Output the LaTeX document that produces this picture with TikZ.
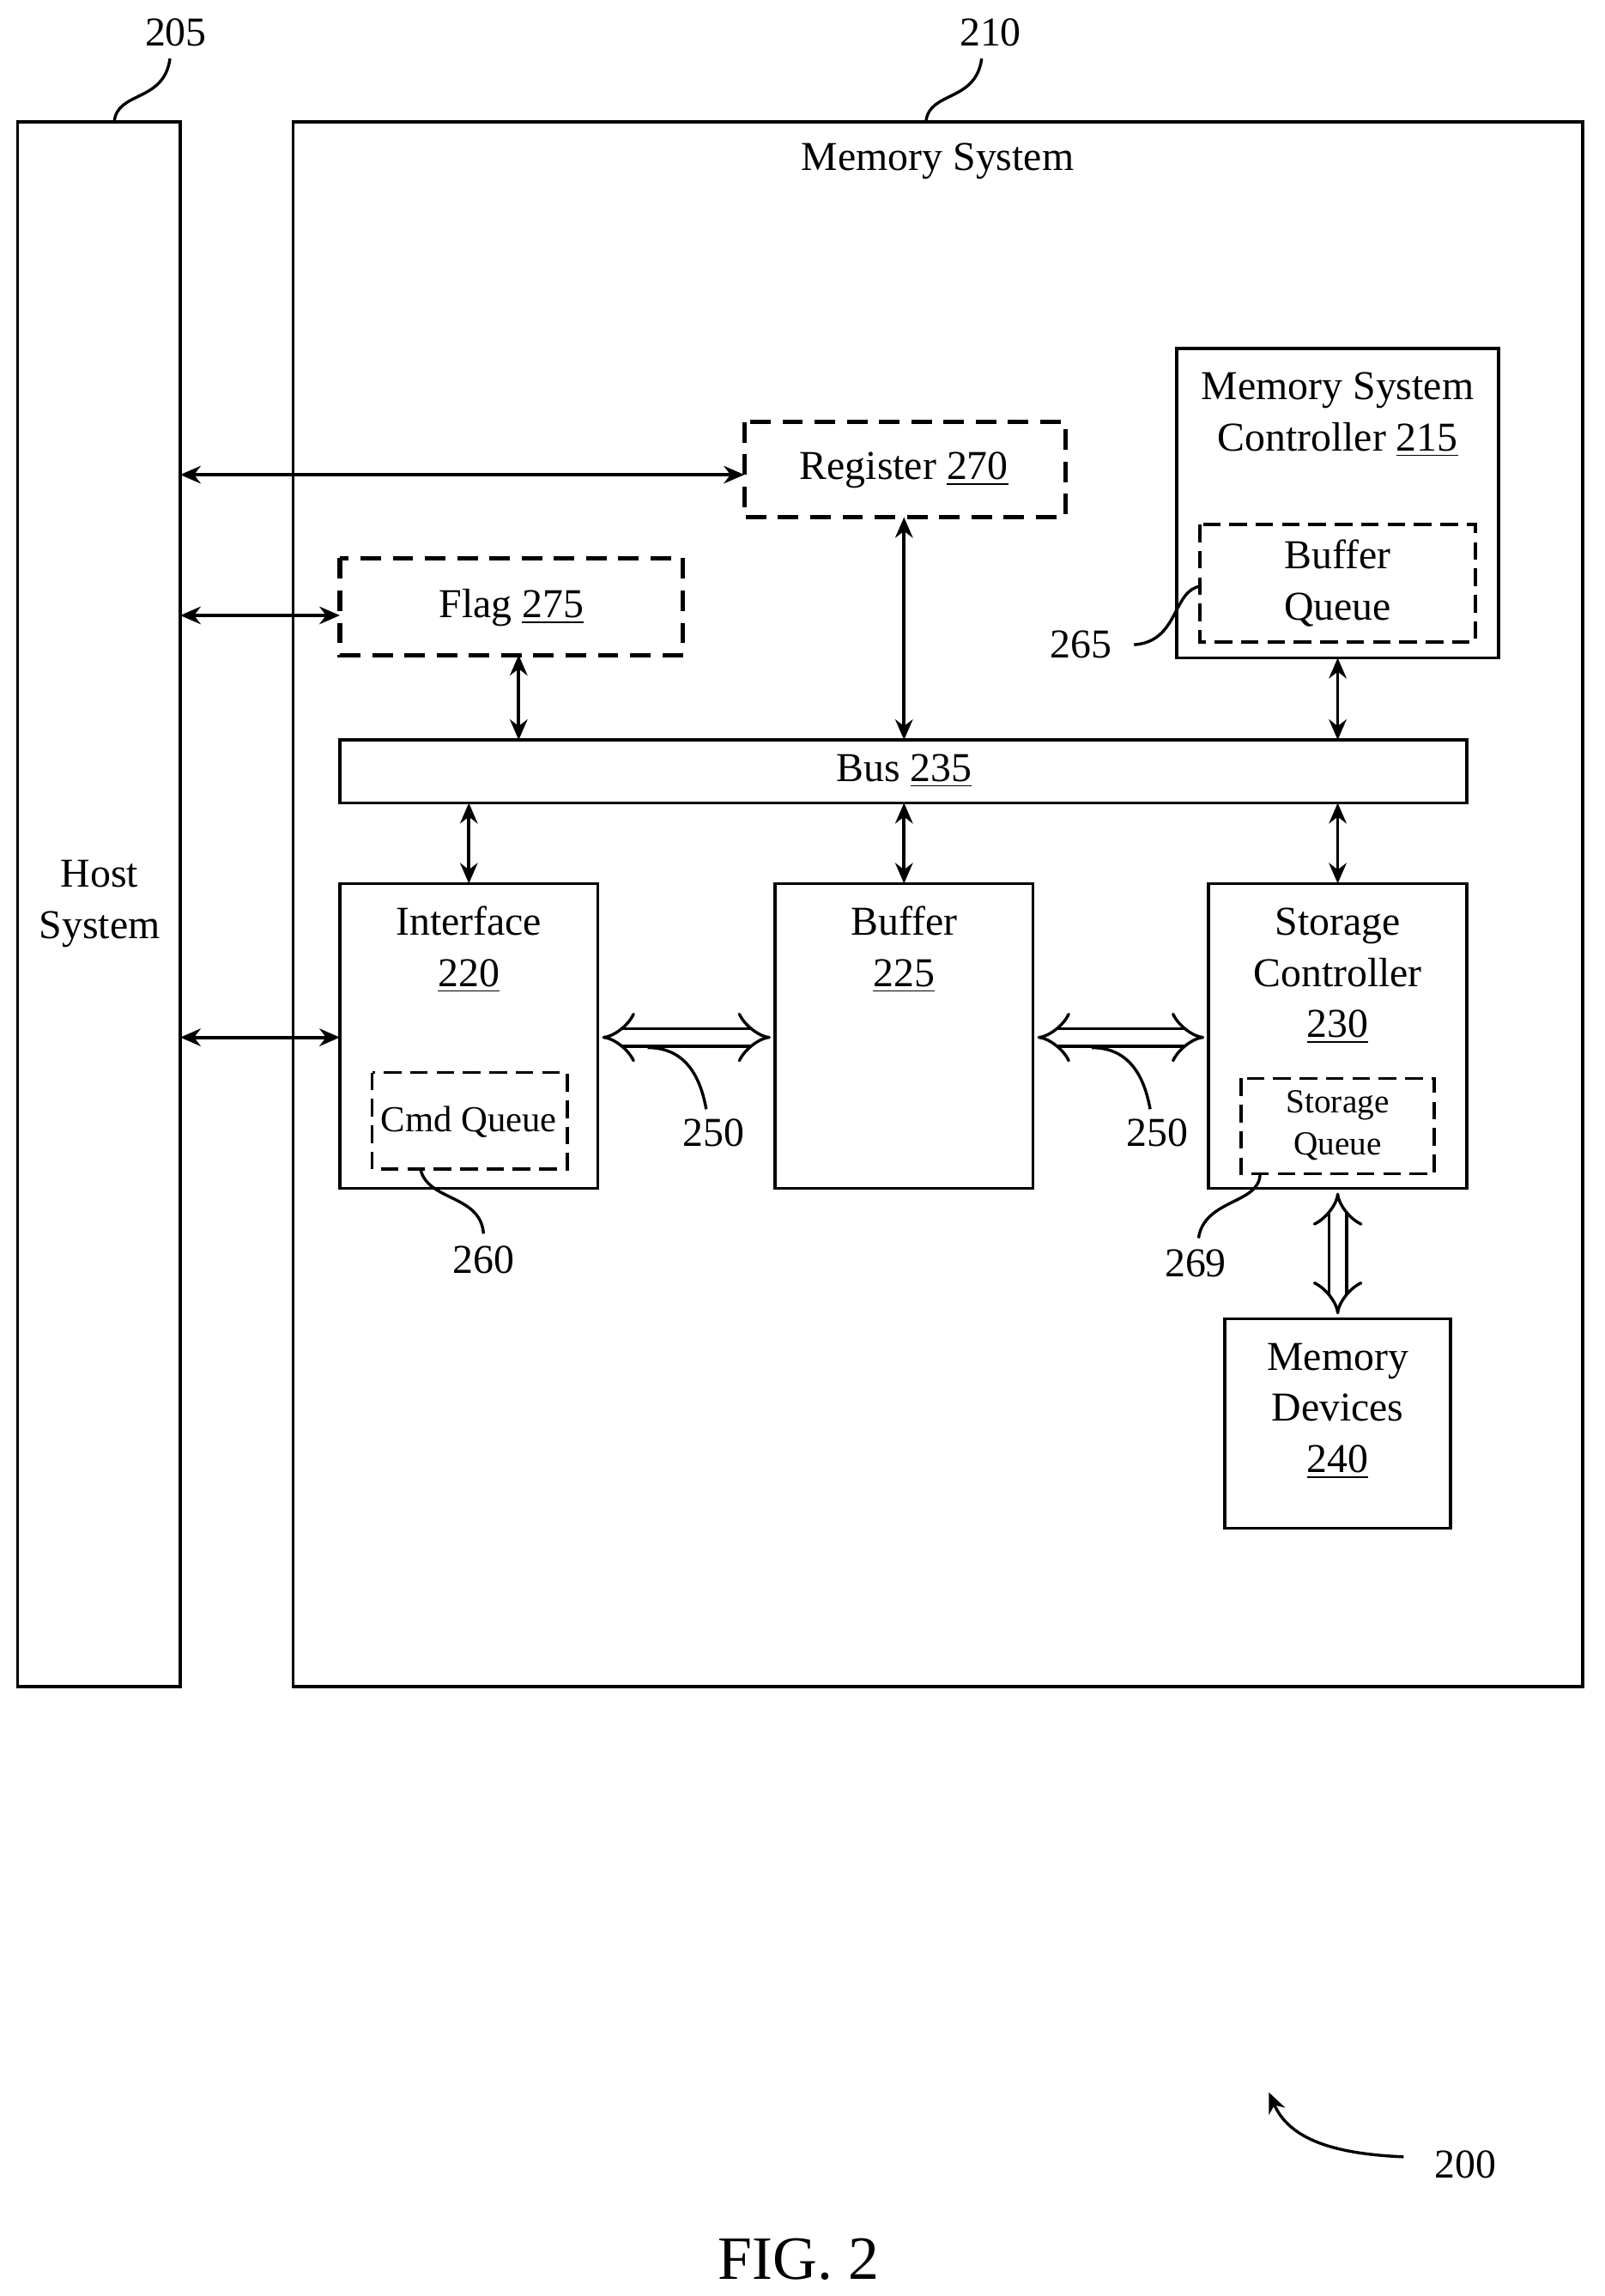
\documentclass[tikz,border=0pt]{standalone}
\usepackage{fontspec}
\setmainfont{Liberation Serif}
\usetikzlibrary{arrows.meta}
\begin{document}
\begin{tikzpicture}[x=0.5pt,y=-0.5pt,line width=1.1pt,
 box/.style={draw,line width=1.1pt},
 dbox/.style={draw,dashed,dash pattern=on 7pt off 4pt,line width=1.5pt},
 dboxs/.style={draw,dashed,dash pattern=on 6pt off 3pt,line width=1.1pt},
 txt/.style={font=\fontsize{14}{17.5}\selectfont,align=center},
 arr/.style={{Stealth[length=7pt,width=6pt]}-{Stealth[length=7pt,width=6pt]},line width=1.1pt},
 darr/.style={double,double distance=5pt,line width=1pt,{Implies}-{Implies}},
 lead/.style={line width=1pt}]
\useasboundingbox (0,0) rectangle (1095,1567);
% boxes
\draw[box] (12,83) rectangle (123,1151);
\node[txt] (host) at (68,617) {Host\\System};
\draw[box] (200,83) rectangle (1080,1151);
\node[txt] (mst) at (640,110) {Memory System};
\node[txt] (l205) at (120,22) {205};
\node[txt] (l210) at (676,22) {210};
\draw[lead] (78,83) .. controls (80,62) and (112,70) .. (116,40);
\draw[lead] (632,83) .. controls (634,62) and (666,70) .. (670,40);
% register / flag
\draw[dbox] (508,288) rectangle (727,353);
\node[txt] (reg) at (617,321) {Register \underline{270}};
\draw[dbox] (232,381) rectangle (466,447);
\node[txt] (flag) at (349,415) {Flag \underline{275}};
% MSC
\draw[box] (803,238) rectangle (1023,449);
\node[txt] (msc) at (913,283) {Memory System\\Controller \underline{215}};
\draw[dboxs] (819,358) rectangle (1007,438);
\node[txt] (bq) at (913,398) {Buffer\\Queue};
\node[txt] (l265) at (738,440) {265};
\draw[lead] (820,400) .. controls (800,402) and (805,438) .. (774,440);
% bus
\draw[box] (232,505) rectangle (1001,548);
\node[txt] (bus) at (617,526) {Bus \underline{235}};
% interface
\draw[box] (232,603) rectangle (408,811);
\node[txt] (int) at (320,648) {Interface\\\underline{220}};
\draw[dboxs] (254,732) rectangle (387,798);
\node[txt,font=\fontsize{12.5}{15}\selectfont] (cq) at (320,766) {Cmd Queue};
\node[txt] (l260) at (330,860) {260};
\draw[lead] (287,798) .. controls (292,820) and (328,815) .. (330,842);
% buffer
\draw[box] (529,603) rectangle (705,811);
\node[txt] (buf) at (617,648) {Buffer\\\underline{225}};
% storage controller
\draw[box] (825,603) rectangle (1001,811);
\node[txt] (sc) at (913,666) {Storage\\Controller\\\underline{230}};
\draw[dboxs] (847,736) rectangle (979,801);
\node[txt,font=\fontsize{11.5}{14.5}\selectfont] (sq) at (913,768) {Storage\\Queue};
\node[txt] (l269) at (816,862) {269};
\draw[lead] (860,801) .. controls (860,822) and (822,818) .. (818,845);
% memory devices
\draw[box] (836,900) rectangle (990,1043);
\node[txt] (md) at (913,963) {Memory\\Devices\\\underline{240}};
% arrows
\draw[arr] (123,324) -- (508,324);
\draw[arr] (123,420) -- (232,420);
\draw[arr] (123,708) -- (232,708);
\draw[arr] (354,447) -- (354,505);
\draw[arr] (617,353) -- (617,505);
\draw[arr] (913,449) -- (913,505);
\draw[arr] (320,548) -- (320,603);
\draw[arr] (617,548) -- (617,603);
\draw[arr] (913,548) -- (913,603);
\draw[darr] (411,708) -- (526,708);
\draw[darr] (708,708) -- (822,708);
\draw[darr] (913,814) -- (913,897);
\node[txt] (l250a) at (487,773) {250};
\node[txt] (l250b) at (790,773) {250};
\draw[lead] (442,715) .. controls (468,715) and (478,735) .. (482,757);
\draw[lead] (745,715) .. controls (771,715) and (781,735) .. (785,757);
% 200
\node[txt] (l200) at (1000,1477) {200};
\draw[lead,-{Stealth[length=7pt,width=6pt]}] (958,1472) .. controls (910,1470) and (880,1460) .. (866,1428);
\node[txt,font=\fontsize{21}{25}\selectfont] (fig) at (545,1542) {FIG. 2};
\end{tikzpicture}
\end{document}
